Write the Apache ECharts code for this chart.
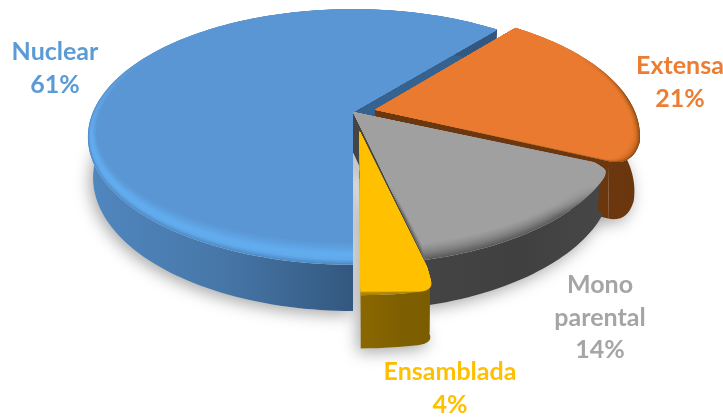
<!DOCTYPE html>
<html>
<head>
<meta charset="utf-8">
<style>html,body{margin:0;padding:0;background:#fff}#c{width:723px;height:418px}</style>
<script src="https://cdn.jsdelivr.net/npm/echarts@6/dist/echarts.min.js"></script>
</head>
<body>
<div id="c"></div>
<script>
var categories = ['Nuclear', 'Extensa', 'Mono\nparental', 'Ensamblada'];
var values = [61, 21, 14.4, 3.6];
var explode = [0, 0.087, 0, 0.155];
var startAngle = 180;

// one look per slice
var looks = [
  {top:'#5A96D3', rim:['#4F8DC8','#60A9EB','#63ADEF','#5FA6E8','#5C9DDD'], rimF:.88, rimS:.972, wall:['#5087BF','#4777A8','#33587F'], radial:'#36628F', text:'#5B9BD5', sink:0, nudge:0, round:[0,0], toFront:true},
  {top:'#E97A2F', rim:['#8F4C15','#C2651F','#DC7329'], rimF:.95, rimS:.975, wall:['#7A3F10','#6E380E','#6A360D'], radial:'#6B370F', text:'#ED7D31', sink:14, nudge:0, round:[0,24]},
  {top:'#A0A0A0', rim:['#5C5C5C','#7A7A7A','#919191'], rimF:.91, rimS:.975, wall:['#444444','#404040','#474747'], radial:'#454545', text:'#A5A5A5', sink:0, nudge:0, round:[9,0]},
  {top:'#FFC000', rim:['#A98000','#D6A200','#F0B400'], rimF:.93, rimS:.97, wall:['#8A6800','#7F6000','#7A5C00'], radial:'#7F6000', text:'#FFC000', sink:6, nudge:2, round:[13,0]}
];

// perspective projection of the unit disc
var CX = 353, CY = 112, F = 260, G = 123, K = 0.195, A = 41, B = 0.019;
function topPt(u, v) { var d = 1 - K * v; return [CX + F * u / d, CY + G * v / d]; }
function botPt(u, v) { var d = 1 - K * v + B; return [CX + F * u / d, CY + (G * v + A) / d]; }

var total = values.reduce(function (a, b) { return a + b; }, 0);
var spans = [], acc = startAngle;
values.forEach(function (v) { var s = v / total * 360; spans.push([acc, acc + s]); acc += s; });
function rad(d) { return d * Math.PI / 180; }

function geom(i) {
  var a0 = spans[i][0], a1 = spans[i][1], mid = rad((a0 + a1) / 2), L = looks[i];
  var su = Math.sin(mid) * explode[i], sv = -Math.cos(mid) * explode[i];
  function place(fn, isBot, u, v) {
    var p = fn(u, v);
    return [p[0] + L.nudge, p[1] + (isBot ? L.sink : 0)];
  }
  function arc(fn, rs, rf) {
    var n = Math.max(4, Math.ceil((a1 - a0) / 1.5)), pts = [];
    for (var k = 0; k <= n; k++) {
      var t = rad(a0 + (a1 - a0) * k / n), u = Math.sin(t), v = -Math.cos(t);
      pts.push(place(fn, fn === botPt, u * rs + su, v * (v > 0 ? rf : rs) + sv));
    }
    return pts;
  }
  return { arc: arc, apexT: place(topPt, false, su, sv), apexB: place(botPt, true, su, sv) };
}

function dist(a, b) { return Math.hypot(a[0] - b[0], a[1] - b[1]); }
// soften the end of an arc towards a neighbouring point
function softEnd(arcPts, neighbour, r) {
  if (!r) return arcPts;
  var c = arcPts[arcPts.length - 1], k = arcPts.length - 1;
  while (k > 0 && dist(arcPts[k], c) < r) k--;
  var head = arcPts.slice(0, k + 1), p = arcPts[k];
  var d = dist(c, neighbour), q = [c[0] + (neighbour[0] - c[0]) * r / d, c[1] + (neighbour[1] - c[1]) * r / d];
  for (var i = 1; i <= 8; i++) {
    var t = i / 8, m = 1 - t;
    head.push([m * m * p[0] + 2 * m * t * c[0] + t * t * q[0], m * m * p[1] + 2 * m * t * c[1] + t * t * q[1]]);
  }
  return head;
}
function softBoth(arcPts, nStart, nEnd, R) {
  var out = softEnd(arcPts, nEnd, R[1]);
  return softEnd(out.slice().reverse(), nStart, R[0]).reverse();
}

function poly(points, fill, extra) {
  var st = { fill: fill };
  if (extra) for (var k in extra) st[k] = extra[k];
  return { type: 'polygon', shape: { points: points }, style: st, silent: true };
}
function hGrad(x0, x1, cols) {
  return new echarts.graphic.LinearGradient(x0, 0, x1, 0, cols.map(function (c, i) {
    return { offset: i / (cols.length - 1), color: c };
  }), true);
}
function vGrad(y0, y1, c0, c1) {
  return new echarts.graphic.LinearGradient(0, y0, 0, y1, [{ offset: 0, color: c0 }, { offset: 1, color: c1 }], true);
}
function ramp(list, t) { return echarts.color.lerp(Math.min(1, Math.max(0, t)), list); }

function renderShadow(params) {
  var i = params.dataIndex, g = geom(i), L = looks[i];
  var pts = [g.apexB].concat(softBoth(g.arc(botPt, 1, 1), g.apexB, g.apexB, [L.round[0] * 0.8, L.round[1] * 0.8]));
  return poly(pts, '#E2E2E2', { shadowBlur: 16, shadowColor: 'rgba(0,0,0,0.34)', shadowOffsetY: 4, shadowOffsetX: -3 });
}

function renderSlice(params) {
  var i = params.dataIndex, g = geom(i), L = looks[i], kids = [];
  var tArc = g.arc(topPt, 1, 1), bArc = g.arc(botPt, 1, 1);
  var xs = tArc.concat(bArc).map(function (p) { return p[0]; });
  var x0 = Math.min.apply(null, xs), x1 = L.toFront ? tArc[0][0] : Math.max.apply(null, xs);
  var ys = tArc.map(function (p) { return p[1]; });
  var y1 = Math.max.apply(null, ys), y0 = Math.min.apply(null, ys);

  var softT = softBoth(tArc, g.apexT, g.apexT, L.round);
  var softB = softBoth(bArc, g.apexB, g.apexB, [L.round[0] * 0.8, L.round[1] * 0.8]);
  // radial walls
  kids.push(poly([g.apexT, softT[0], softB[0], g.apexB], L.radial));
  kids.push(poly([g.apexT, softT[softT.length - 1], softB[softB.length - 1], g.apexB], L.radial));
  // outer wall
  kids.push(poly(softT.concat(softB.slice().reverse()), hGrad(x0, x1, L.wall)));
  // bevel rings, outermost first, then the flat top
  var STEPS = 14;
  var fadeY0 = y0 + (y1 - y0) * 0.18, fadeY1 = y0 + (y1 - y0) * 0.5;
  for (var k = 0; k < STEPS; k++) {
    var f = k / STEPS;
    var rs = 1 - (1 - L.rimS) * f, rf = 1 - (1 - L.rimF) * f;
    var c = ramp(L.rim.concat([L.top]), f);
    var a = g.arc(topPt, rs, rf);
    var sa = softBoth(a, g.apexT, g.apexT, L.round);
    kids.push(poly([g.apexT].concat(sa), vGrad(fadeY0, fadeY1, L.top, c)));
  }
  var last = g.arc(topPt, L.rimS, L.rimF);
  kids.push(poly([g.apexT].concat(softBoth(last, g.apexT, g.apexT, L.round)), L.top));
  return { type: 'group', children: kids };
}

function labelText(i) {
  return categories[i] + '\n' + Math.round(values[i] / total * 100) + '%';
}
function label(i, x, y) {
  return {
    type: 'text', x: x, y: y, silent: true,
    style: {
      text: labelText(i), fill: looks[i].text, align: 'center', verticalAlign: 'top',
      font: 'bold 25px Lato, sans-serif', lineHeight: 32.5
    }
  };
}

var chart = echarts.init(document.getElementById('c'), null, { renderer: 'canvas' });
chart.setOption({
  animation: false,
  backgroundColor: '#ffffff',
  series: [
    { type: 'custom', coordinateSystem: 'none', z: 1, silent: true, renderItem: renderShadow, data: values },
    { type: 'custom', coordinateSystem: 'none', z: 2, silent: true, renderItem: renderSlice, data: values }
  ],
  graphic: [
    label(0, 55, 36),
    label(1, 680, 50),
    label(2, 600, 269),
    label(3, 450, 356)
  ]
});
</script>
</body>
</html>
